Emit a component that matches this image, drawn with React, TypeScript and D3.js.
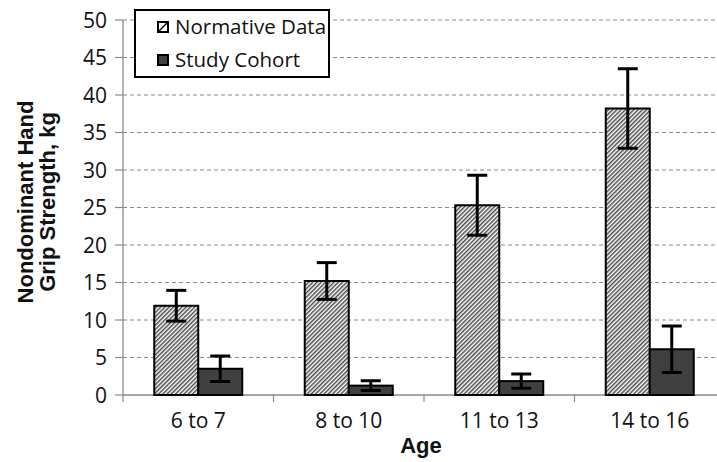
import React from 'react'
import * as d3 from 'd3'

const ageGroups = ['6 to 7', '8 to 10', '11 to 13', '14 to 16']
const seriesNames = ['Normative Data', 'Study Cohort']
const normativeMean = [11.9, 15.2, 25.3, 38.2]
const normativeErr = [2.05, 2.45, 4.0, 5.3]
const cohortMean = [3.5, 1.25, 1.85, 6.1]
const cohortErr = [1.7, 0.65, 0.95, 3.1]
const yTicks = [0, 5, 10, 15, 20, 25, 30, 35, 40, 45, 50]

const width = 717
const height = 462
const font = "'Open Sans', 'Liberation Sans', sans-serif"
const boldFont = "'Liberation Sans', Arial, sans-serif"

const App = () => {
  const x = d3.scaleBand().domain(ageGroups).range([123, 725]).padding(0)
  const groupWidth = 88
  const xs = d3.scaleBand().domain(seriesNames).range([0, groupWidth]).padding(0)
  const y = d3.scaleLinear().domain([0, 50]).range([395, 20])

  const rows = ageGroups.map((g, i) => ({
    group: g,
    bars: [
      { name: seriesNames[0], mean: normativeMean[i], err: normativeErr[i] },
      { name: seriesNames[1], mean: cohortMean[i], err: cohortErr[i] },
    ],
  }))

  const barX = (g, s) => x(g) + (x.bandwidth() - groupWidth) / 2 + xs(s)
  const fillFor = s => (s === seriesNames[0] ? 'url(#hatch)' : '#404040')

  return (
    <svg
      width={width}
      height={height}
      style={{ position: 'absolute', left: 0, top: 0, background: '#fff' }}
    >
      <defs>
        <pattern
          id="hatch"
          patternUnits="userSpaceOnUse"
          width={3}
          height={3}
          patternTransform="rotate(45)"
        >
          <rect width={3} height={3} fill="#fff" />
          <line x1={0.8} y1={0} x2={0.8} y2={3} stroke="#1e1e1e" strokeWidth={1.2} />
        </pattern>
      </defs>

      {/* grid */}
      {yTicks.filter(t => t > 0).map(t => (
        <line
          key={'g' + t}
          x1={123}
          x2={width}
          y1={y(t)}
          y2={y(t)}
          stroke="#8a8a8a"
          strokeWidth={1}
          strokeDasharray="4 3"
        />
      ))}

      {/* axes */}
      <line x1={123} x2={123} y1={y(50)} y2={y(0)} stroke="#8a8a8a" strokeWidth={1.3} />
      <line x1={123} x2={width} y1={y(0)} y2={y(0)} stroke="#8a8a8a" strokeWidth={1.3} />
      {yTicks.map(t => (
        <g key={'t' + t}>
          <line x1={115} x2={123} y1={y(t)} y2={y(t)} stroke="#8a8a8a" strokeWidth={1.2} />
          <text
            x={107}
            y={y(t)}
            dy="0.36em"
            textAnchor="end"
            fontFamily={font}
            fontSize={21}
            fill="#111"
          >
            {t}
          </text>
        </g>
      ))}
      {ageGroups.map(g => (
        <g key={'x' + g}>
          <line
            x1={x(g)}
            x2={x(g)}
            y1={y(0)}
            y2={y(0) + 7}
            stroke="#8a8a8a"
            strokeWidth={1.2}
          />
          <text
            x={x(g) + x.bandwidth() / 2}
            y={428}
            textAnchor="middle"
            fontFamily={font}
            fontSize={21}
            fill="#111"
          >
            {g}
          </text>
        </g>
      ))}

      {/* bars */}
      {rows.map(r =>
        r.bars.map(b => {
          const bx = barX(r.group, b.name)
          const cx = bx + xs.bandwidth() / 2
          return (
            <g key={r.group + b.name}>
              <rect
                x={bx}
                y={y(b.mean)}
                width={xs.bandwidth()}
                height={y(0) - y(b.mean)}
                fill={fillFor(b.name)}
                stroke="#000"
                strokeWidth={2}
              />
              <line
                x1={cx}
                x2={cx}
                y1={y(b.mean + b.err)}
                y2={y(b.mean - b.err)}
                stroke="#000"
                strokeWidth={3}
              />
              <line
                x1={cx - 10}
                x2={cx + 10}
                y1={y(b.mean + b.err)}
                y2={y(b.mean + b.err)}
                stroke="#000"
                strokeWidth={3}
              />
              <line
                x1={cx - 10}
                x2={cx + 10}
                y1={y(b.mean - b.err)}
                y2={y(b.mean - b.err)}
                stroke="#000"
                strokeWidth={3}
              />
            </g>
          )
        })
      )}

      {/* legend */}
      <g>
        <rect x={135} y={10} width={194} height={67} fill="#fff" stroke="#000" strokeWidth={2} />
        <rect x={158} y={22} width={10} height={10} fill="#fff" stroke="#000" strokeWidth={2} />
        <line x1={159} y1={31} x2={167} y2={23} stroke="#000" strokeWidth={1.5} />
        <text x={175} y={34} fontFamily={font} fontSize={20.5} fill="#111">
          {seriesNames[0]}
        </text>
        <rect x={158} y={55} width={10} height={10} fill="#404040" stroke="#000" strokeWidth={2} />
        <text x={175} y={67} fontFamily={font} fontSize={20.5} fill="#111">
          {seriesNames[1]}
        </text>
      </g>

      {/* axis titles */}
      <text
        x={421}
        y={453}
        textAnchor="middle"
        fontFamily={boldFont}
        fontWeight="bold"
        fontSize={22}
        fill="#111"
      >
        Age
      </text>
      <g transform="translate(0,202) rotate(-90)">
        <text
          x={0}
          y={33}
          textAnchor="middle"
          fontFamily={boldFont}
          fontWeight="bold"
          fontSize={22}
          fill="#111"
        >
          Nondominant Hand
        </text>
        <text
          x={0}
          y={55}
          textAnchor="middle"
          fontFamily={boldFont}
          fontWeight="bold"
          fontSize={22}
          fill="#111"
        >
          Grip Strength, kg
        </text>
      </g>
    </svg>
  )
}

export default App
